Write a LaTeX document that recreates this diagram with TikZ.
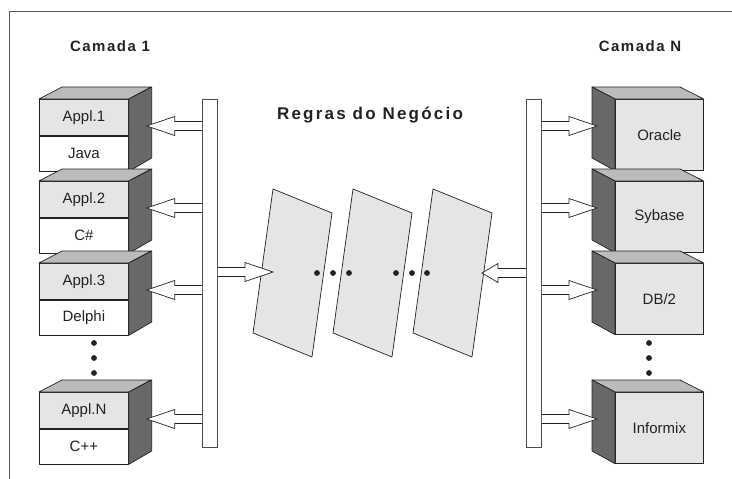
\documentclass[tikz,border=0pt]{standalone}
\usepackage{fontspec}
\setmainfont{Liberation Sans}
\newfontfamily\spacedfont[LetterSpace=10]{Liberation Sans}
\newfontfamily\widefont[LetterSpace=13]{Liberation Sans}
\usetikzlibrary{calc}
\definecolor{front}{HTML}{E5E5E7}
\definecolor{topface}{HTML}{BBBBBD}
\definecolor{sideface}{HTML}{68686B}
\definecolor{ink}{HTML}{222222}
\tikzset{
  edge/.style={draw=ink, line width=0.7pt, line join=round},
  face/.style={edge, minimum width=89pt, minimum height=36pt, inner sep=0pt,
    text=ink, font=\fontsize{15}{18}\selectfont},
  bar/.style={draw=black!70, line width=0.8pt, fill=white, anchor=north west,
    minimum width=15pt, minimum height=348pt, inner sep=0pt},
  panel/.style={edge, fill=front},
  title/.style={text=ink, font=\spacedfont\bfseries\fontsize{15}{18}\selectfont},
  blk/.style={draw=ink, line width=0.7pt, fill=white, line join=miter,
    to path={let \p1=(\tikztostart), \p2=(\tikztotarget),
      \p3=($(\tikztotarget)!#1!(\tikztostart)$) in
      (\x1,\y1+4.5pt) -- (\x3,\y1+4.5pt) -- (\x3,\y1+9.5pt) -- (\p2)
      -- (\x3,\y1-9.5pt) -- (\x3,\y1-4.5pt) -- (\x1,\y1-4.5pt)}},
  blk/.default=28pt
}
\begin{document}
\begin{tikzpicture}[x=1pt,y=-1pt]
\useasboundingbox (0,0) rectangle (732,479);
\draw[black!65, line width=1pt] (9,479) -- (9,11) -- (732,11);
\node[title] (cam1) at (110,46) {Camada 1};
\node[title] (camN) at (640,46) {Camada N};
\node[title, font=\widefont\bfseries\fontsize{17}{20}\selectfont] (regras) at (370,115) {Regras do Negócio};
\foreach \k in {0,1,2}
  \draw[panel] ({273+80*\k},189) -- ++(59,24) -- ++(-20,144) -- ++(-59,-24) -- cycle;
\foreach \xd in {317,333,349,396,412,427}
  \fill[ink] (\xd,273) circle (2.9pt);
\foreach \yd in {343,358,373}{
  \fill[ink] (94,\yd) circle (2.9pt);
  \fill[ink] (649,\yd) circle (2.9pt);
}
\node[bar] (bar1) at (202,99) {};
\node[bar] (bar2) at (526,99) {};
\foreach \i/\ya/\a/\b in {1/99/Appl.1/Java, 2/181/Appl.2/C\#, 3/263/Appl.3/Delphi, 4/392/Appl.N/C++}{
  \node[face, fill=front, anchor=north west] (app\i) at (39,\ya) {\a};
  \node[face, fill=white, minimum height=35pt, anchor=north] (lng\i) at (app\i.south) {\b};
  \draw[edge, fill=topface] (app\i.north west) -- ++(23,-12) -- ++(89,0) -- (app\i.north east) -- cycle;
  \draw[edge, fill=sideface] (app\i.north east) -- ++(23,-12) -- ++(0,71) -- (lng\i.south east) -- cycle;
  \coordinate (ta\i) at ([xshift=18pt,yshift=-27pt]app\i.north east);
  \draw[blk] (bar1.west |- ta\i) to (ta\i);
}
\foreach \i/\ya/\a in {1/99/Oracle, 2/181/Sybase, 3/263/{DB/2}, 4/392/Informix}{
  \node[face, fill=front, minimum width=88pt, minimum height=71pt, anchor=north west] (db\i) at (615,\ya) {\a};
  \draw[edge, fill=topface] (db\i.north west) -- ++(-23,-12) -- ++(88,0) -- (db\i.north east) -- cycle;
  \draw[edge, fill=sideface] (db\i.north west) -- ++(-23,-12) -- ++(0,71) -- (db\i.south west) -- cycle;
  \coordinate (tb\i) at ([xshift=-18pt,yshift=-27pt]db\i.north west);
  \draw[blk] (bar2.east |- tb\i) to (tb\i);
}
\coordinate (pin) at (273,272);
\coordinate (pout) at (482,273);
\draw[blk] (bar1.east |- pin) to (pin);
\draw[blk=16pt] (bar2.west |- pout) to (pout);
\end{tikzpicture}
\end{document}
